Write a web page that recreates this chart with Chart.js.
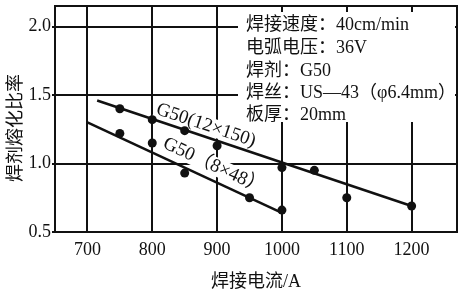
<!DOCTYPE html>
<html>
<head>
<meta charset="utf-8">
<script src="https://cdn.jsdelivr.net/npm/chart.js@4/dist/chart.umd.min.js"></script>
<style>
  html, body { margin: 0; padding: 0; background: #fff; }
  #wrap { width: 465px; height: 296px; position: relative; }
</style>
</head>
<body>
<div id="wrap"><canvas id="c" width="465" height="296"></canvas></div>
<script>
// ---- data ----
const xTicks = [700, 800, 900, 1000, 1100, 1200];
const yTicks = [0.5, 1.0, 1.5, 2.0];

const upperCurrent = [750, 800, 850, 900, 1000, 1050, 1100, 1200];
const upperRatio   = [1.40, 1.32, 1.24, 1.13, 0.97, 0.95, 0.75, 0.69];

const lowerCurrent = [750, 800, 850, 950, 1000];
const lowerRatio   = [1.22, 1.15, 0.93, 0.75, 0.66];

const upperFitCurrent = [715, 1200];
const upperFitRatio   = [1.46, 0.69];
const lowerFitCurrent = [700, 1000];
const lowerFitRatio   = [1.30, 0.64];

const seriesLabels = ['G50(12×150)', 'G50（8×48）'];
const infoLines = [
  '焊接速度：40cm/min',
  '电弧电压：36V',
  '焊剂：G50',
  '焊丝：US—43（φ6.4mm）',
  '板厚：20mm'
];
const xTitle = '焊接电流/A';
const yTitle = '焊剂熔化比率';

// ---- build ----
const pts = (xs, ys) => xs.map((x, i) => ({ x: x, y: ys[i] }));
const FONT = "'Liberation Serif', 'Noto Sans CJK SC', serif";
const INK = '#111';

const overlay = {
  id: 'overlay',
  beforeDatasetsDraw(chart) {
    const ctx = chart.ctx;
    const xs = chart.scales.x, ys = chart.scales.y;
    // info box (white background hides grid)
    ctx.save();
    ctx.fillStyle = '#fff';
    ctx.fillRect(238, 12, 217, 110);
    ctx.fillStyle = INK;
    ctx.font = '18px ' + FONT;
    ctx.textAlign = 'left';
    ctx.textBaseline = 'middle';
    const rows = [25, 48, 71, 93, 115];
    infoLines.forEach((t, i) => ctx.fillText(t, 246, rows[i]));
    ctx.restore();

    // labels along fit lines
    const lbl = (fx, fy, text, t, off) => {
      const x0 = xs.getPixelForValue(fx[0]), y0 = ys.getPixelForValue(fy[0]);
      const x1 = xs.getPixelForValue(fx[1]), y1 = ys.getPixelForValue(fy[1]);
      const a = Math.atan2(y1 - y0, x1 - x0);
      const px = x0 + (x1 - x0) * t, py = y0 + (y1 - y0) * t;
      const cx = px + Math.sin(a) * off, cy = py - Math.cos(a) * off;
      ctx.save();
      ctx.translate(cx, cy);
      ctx.rotate(a);
      ctx.font = '19px ' + FONT;
      const w = ctx.measureText(text).width;
      ctx.fillStyle = '#fff';
      ctx.fillRect(-w / 2 - 2, -9, w + 4, 18);
      ctx.fillStyle = INK;
      ctx.textAlign = 'center';
      ctx.textBaseline = 'middle';
      ctx.fillText(text, 0, 0);
      ctx.restore();
    };
    lbl(upperFitCurrent, upperFitRatio, seriesLabels[0], 0.335, 11);
    lbl(lowerFitCurrent, lowerFitRatio, seriesLabels[1], 0.62, 14);
  },
  afterDraw(chart) {
    const a = chart.chartArea, ctx = chart.ctx;
    ctx.save();
    ctx.strokeStyle = INK;
    ctx.lineWidth = 2;
    ctx.strokeRect(a.left, a.top, a.right - a.left, a.bottom - a.top);
    ctx.restore();
  }
};

new Chart(document.getElementById('c'), {
  type: 'scatter',
  data: {
    datasets: [
      { label: seriesLabels[0], data: pts(upperCurrent, upperRatio),
        pointRadius: 4.5, pointBackgroundColor: INK, pointBorderWidth: 0, showLine: false },
      { label: seriesLabels[1], data: pts(lowerCurrent, lowerRatio),
        pointRadius: 4.5, pointBackgroundColor: INK, pointBorderWidth: 0, showLine: false },
      { label: seriesLabels[0] + ' fit', data: pts(upperFitCurrent, upperFitRatio),
        showLine: true, pointRadius: 0, borderColor: INK, borderWidth: 2.5 },
      { label: seriesLabels[1] + ' fit', data: pts(lowerFitCurrent, lowerFitRatio),
        showLine: true, pointRadius: 0, borderColor: INK, borderWidth: 2.5 }
    ]
  },
  options: {
    responsive: false,
    animation: false,
    layout: { padding: { top: 6, right: 8, left: 0, bottom: 0 } },
    plugins: { legend: { display: false }, tooltip: { enabled: false } },
    scales: {
      x: {
        type: 'linear', min: 650, max: 1270,
        afterBuildTicks: s => { s.ticks = xTicks.map(v => ({ value: v })); },
        afterFit: s => { s.height = 64; s.paddingLeft = 0; s.paddingRight = 0; },
        grid: { color: INK, lineWidth: 2, drawTicks: false },
        border: { color: INK, width: 2 },
        ticks: { color: INK, font: { family: FONT, size: 18 }, padding: 7, maxRotation: 0,
                 callback: v => String(v) },
        title: { display: true, text: xTitle, color: INK,
                 font: { family: FONT, size: 18 }, padding: { top: 0, bottom: 3 } }
      },
      y: {
        type: 'linear', min: 0.5, max: 2.15,
        afterBuildTicks: s => { s.ticks = yTicks.map(v => ({ value: v })); },
        afterFit: s => { s.width = 55; s.paddingTop = 0; s.paddingBottom = 0; },
        grid: { color: INK, lineWidth: 2, drawTicks: true, tickLength: 3 },
        border: { color: INK, width: 2 },
        ticks: { color: INK, font: { family: FONT, size: 18 }, padding: 1,
                 callback: v => Number(v).toFixed(1) },
        title: { display: true, text: yTitle + '　', color: INK,
                 font: { family: FONT, size: 18 }, padding: { top: 5, bottom: 0 } }
      }
    }
  },
  plugins: [overlay]
});
</script>
</body>
</html>
